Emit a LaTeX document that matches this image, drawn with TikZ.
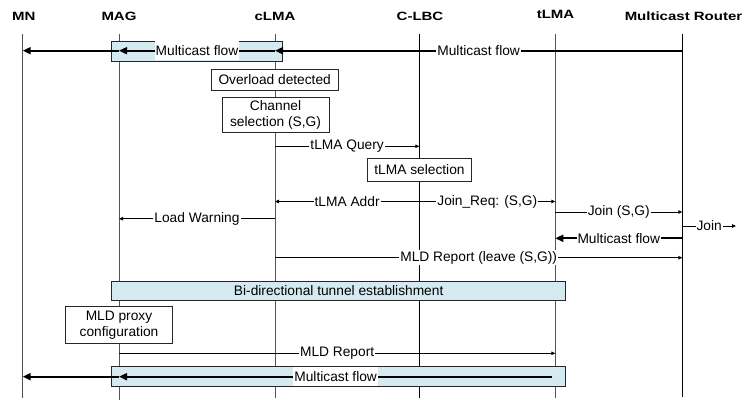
\documentclass[tikz,border=0pt]{standalone}
\usepackage{fontspec}
\usepackage{graphicx}
\setmainfont{Liberation Sans}
\usetikzlibrary{arrows.meta}
\definecolor{boxblue}{RGB}{212,234,240}
\definecolor{lifegray}{RGB}{85,85,85}
\newcommand{\hdrtext}[1]{\scalebox{1.25}[1]{#1}}
\begin{document}
\begin{tikzpicture}[x=1pt,y=-1pt,
  font=\fontsize{13.75}{16.5}\selectfont,
  hdr/.style={font=\fontsize{12}{14}\selectfont\bfseries, anchor=base, inner sep=0pt},
  life/.style={line width=1pt},
  boxnode/.style={draw=black!85, line width=0.9pt, fill=white, align=center, inner sep=0pt},
  band/.style={draw=black!85, line width=0.9pt, fill=boxblue, inner sep=0pt},
  msg/.style={line width=0.9pt, -{Triangle[length=4pt,width=3.5pt]}},
  flow/.style={line width=1.8pt, -{Triangle[length=8pt,width=7pt]}},
  lbl/.style={fill=white, inner sep=1pt},
  flbl/.style={fill=white, inner sep=1pt, minimum height=19pt}
]
\useasboundingbox (0,0) rectangle (745,401);

% lifeline x positions
\coordinate (MN) at (22.7,0);
\coordinate (MAG) at (119,0);
\coordinate (cLMA) at (275,0);
\coordinate (CLBC) at (419.3,0);
\coordinate (tLMA) at (555.3,0);
\coordinate (MR) at (682.3,0);

% headers
\node[hdr] (hMN) at (23.8,20.7) {\hdrtext{MN}};
\node[hdr] (hMAG) at (119,20.7) {\hdrtext{MAG}};
\node[hdr] (hcLMA) at (275,20.2) {\hdrtext{cLMA}};
\node[hdr] (hCLBC) at (420,20.2) {\hdrtext{C-LBC}};
\node[hdr] (htLMA) at (555.5,19) {\hdrtext{tLMA}};
\node[hdr] (hMR) at (683.5,20.5) {\hdrtext{Multicast Router}};

% lifelines
\draw[life, lifegray] (MN|-0,34) -- (MN|-0,398);
\draw[life, lifegray] (MAG|-0,34) -- (MAG|-0,400);
\draw[life, lifegray] (cLMA|-0,34) -- (cLMA|-0,398);
\draw[life, black] (CLBC|-0,34) -- (CLBC|-0,398);
\draw[life, lifegray] (tLMA|-0,34) -- (tLMA|-0,398);
\draw[life, black] (MR|-0,34) -- (MR|-0,397);

% top multicast flow
\node[band, minimum width=171pt, minimum height=20pt] (band1) at (197.2,51) {};
\draw[flow] (MR|-0,50.7) -- node[lbl] {Multicast flow} (cLMA|-0,50.7);
\draw[flow] (cLMA|-0,50.7) -- node[flbl] {Multicast flow} (MAG|-0,50.7);
\draw[flow] (MAG|-0,50.7) -- (MN|-0,50.7);

% overload and channel selection
\node[boxnode, minimum width=127pt, minimum height=21pt] (ovl) at (274.7,79.5) {Overload detected};
\node[boxnode, minimum width=107pt, minimum height=35.4pt] (chs) at (275.5,115) {Channel\\selection (S,G)};

% tLMA query / selection / address
\draw[msg] (cLMA|-0,146.3) -- node[lbl] {tLMA Query} (CLBC|-0,146.3);
\node[boxnode, minimum width=104.4pt, minimum height=22.7pt] (tsel) at (419.5,169.7) {tLMA selection};
\draw[msg] (CLBC|-0,201.5) -- node[lbl] {tLMA Addr} (cLMA|-0,201.5);
\draw[msg] (CLBC|-0,201.5) -- node[lbl] {Join\_Req: (S,G)} (tLMA|-0,201.5);
\draw[msg] (tLMA|-0,212) -- node[lbl] {Join (S,G)} (MR|-0,212);
\draw[msg] (cLMA|-0,218.7) -- node[lbl] {Load Warning} (MAG|-0,218.7);
\coordinate (joinEnd) at (736,226);
\draw[msg] (MR|-0,226) -- node[lbl] {Join} (joinEnd);
\draw[flow] (MR|-0,238.3) -- node[lbl] {Multicast flow} (tLMA|-0,238.3);
\draw[msg] (cLMA|-0,257.7) -- node[lbl] {MLD Report (leave (S,G))} (MR|-0,257.7);

% tunnel
\node[band, minimum width=454pt, minimum height=19.7pt] (tunnel) at (338.7,291) {Bi-directional tunnel establishment};
\node[boxnode, minimum width=106.7pt, minimum height=36.7pt] (mldp) at (119,325) {MLD proxy\\configuration};
\draw[msg] (MAG|-0,353.3) -- node[lbl] {MLD Report} (tLMA|-0,353.3);

% bottom multicast flow
\node[band, minimum width=454pt, minimum height=20.7pt] (band2) at (338.7,376.3) {};
\draw[flow] (552.3,376.7) -- node[flbl] {Multicast flow} (MAG|-0,376.7);
\draw[flow] (MAG|-0,376.7) -- (MN|-0,376.7);
\end{tikzpicture}
\end{document}
